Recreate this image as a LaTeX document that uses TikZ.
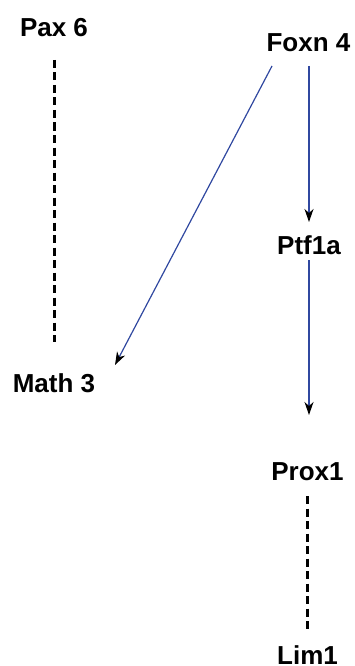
\documentclass[tikz,border=0pt]{standalone}
\usepackage{fontspec}
\setmainfont{Liberation Sans}
\usetikzlibrary{arrows.meta}
\definecolor{linkblue}{RGB}{48,72,160}
\tikzset{
  gene/.style={anchor=base, inner sep=0pt, font=\fontsize{26}{30}\selectfont\bfseries},
  dashlink/.style={line width=3pt, dash pattern=on 8pt off 4.5pt},
  actlink/.style={linkblue, line width=1.2pt, -{Stealth[length=13pt,width=9pt,inset=4pt,black]}}
}
\begin{document}
\begin{tikzpicture}[x=1pt,y=-1pt]
\useasboundingbox (0,0) rectangle (354,666);
\node[gene] (pax)  at (54,37)    {Pax 6};
\node[gene] (foxn) at (308.5,52) {Foxn 4};
\node[gene] (ptf)  at (309,254)  {Ptf1a};
\node[gene] (math) at (54,392)   {Math 3};
\node[gene] (prox) at (307.5,480) {Prox1};
\node[gene] (lim)  at (307.5,664) {Lim1};
\draw[dashlink] ([yshift=-23pt]pax.base) -- ([yshift=50pt]math.base);
\draw[dashlink] ([yshift=-16pt]prox.base) -- ([yshift=33pt]lim.base);
\draw[actlink] ([xshift=0.5pt,yshift=-14pt]foxn.base) -- ([yshift=32pt]ptf.base);
\draw[actlink] ([yshift=-6pt]ptf.base) -- ([xshift=1.5pt,yshift=65pt]prox.base);
\draw[actlink] ([xshift=-36.5pt,yshift=-14pt]foxn.base) -- ([xshift=61pt,yshift=27pt]math.base);
\end{tikzpicture}
\end{document}
